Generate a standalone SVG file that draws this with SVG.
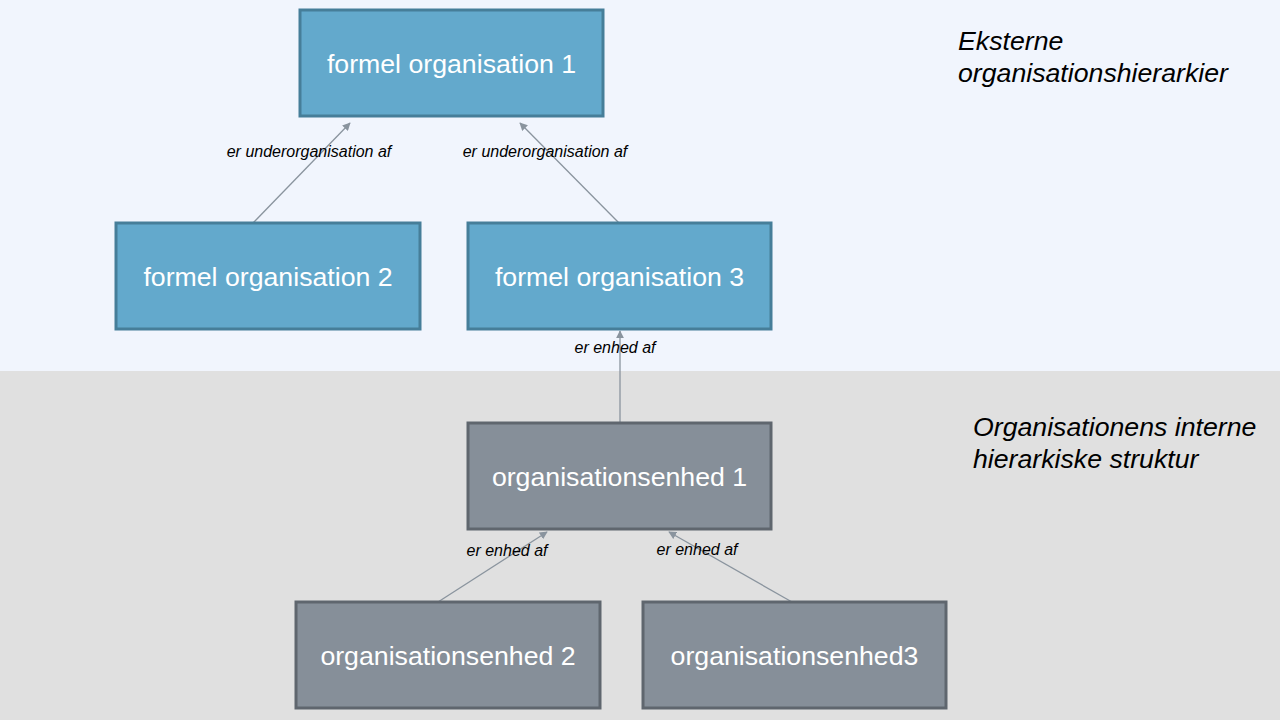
<svg xmlns="http://www.w3.org/2000/svg" width="1280" height="720" viewBox="0 0 1280 720">
<style>
.blue rect{fill:#63A9CC;stroke:#467E99;stroke-width:3}
.gray rect{fill:#868F99;stroke:#5F666E;stroke-width:3}
.nt{font-family:"Liberation Sans",Arial,sans-serif;font-size:26.7px;fill:#FFFFFF;text-anchor:middle}
.lbl{font-family:"Liberation Sans",Arial,sans-serif;font-size:16px;font-style:italic;fill:#000;text-anchor:middle}
.side{font-family:"Liberation Sans",Arial,sans-serif;font-size:26.7px;font-style:italic;fill:#000}
.conn line{stroke:#8A949E;stroke-width:1.3;marker-end:url(#ah)}
</style>
<defs>
<marker id="ah" viewBox="0 0 10 10" refX="9" refY="5" markerWidth="8" markerHeight="8" markerUnits="userSpaceOnUse" orient="auto">
<path d="M0,0 L10,5 L0,10 z" fill="#8A949E"/>
</marker>
</defs>
<rect x="0" y="0" width="1280" height="371" fill="#F1F5FD"/>
<rect x="0" y="371" width="1280" height="349" fill="#E0E0E0"/>
<g id="connectors" class="conn">
<line x1="253" y1="223" x2="350" y2="123"/>
<line x1="619" y1="223" x2="520" y2="123"/>
<line x1="620" y1="423" x2="620" y2="331"/>
<line x1="438" y1="602" x2="547" y2="532"/>
<line x1="792" y1="602" x2="669" y2="532"/>
</g>
<g id="labels">
<text class="lbl" x="309" y="157">er underorganisation af</text>
<text class="lbl" x="545" y="157">er underorganisation af</text>
<text class="lbl" x="615" y="353">er enhed af</text>
<text class="lbl" x="507" y="556">er enhed af</text>
<text class="lbl" x="697" y="555">er enhed af</text>
</g>
<g id="fo1" class="blue"><rect x="300" y="10" width="303" height="106"/><text class="nt" x="451.5" y="73">formel organisation 1</text></g>
<g id="fo2" class="blue"><rect x="116" y="223" width="304" height="106"/><text class="nt" x="268" y="286">formel organisation 2</text></g>
<g id="fo3" class="blue"><rect x="468" y="223" width="303" height="106"/><text class="nt" x="619.5" y="286">formel organisation 3</text></g>
<g id="oe1" class="gray"><rect x="468" y="423" width="303" height="106"/><text class="nt" x="619.5" y="486">organisationsenhed 1</text></g>
<g id="oe2" class="gray"><rect x="296" y="602" width="304" height="106"/><text class="nt" x="448" y="665">organisationsenhed 2</text></g>
<g id="oe3" class="gray"><rect x="643" y="602" width="303" height="106"/><text class="nt" x="794.5" y="665">organisationsenhed3</text></g>
<g id="side">
<text class="side" x="958" y="50">Eksterne</text>
<text class="side" x="958" y="82">organisationshierarkier</text>
<text class="side" x="973" y="436">Organisationens interne</text>
<text class="side" x="973" y="468">hierarkiske struktur</text>
</g>
</svg>
